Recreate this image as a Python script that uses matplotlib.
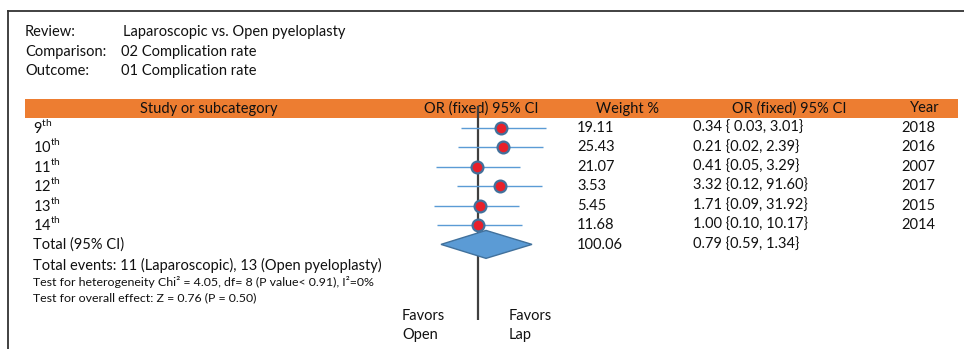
"""Forest plot: laparoscopic vs. open pyeloplasty, complication rate."""

import matplotlib.pyplot as plt

plt.rcParams['font.family'] = ['Lato', 'DejaVu Sans']
plt.rcParams['mathtext.fontset'] = 'custom'
plt.rcParams['mathtext.rm'] = 'Lato'

# --- data -------------------------------------------------------------------
studies = ['9', '10', '11', '12', '13', '14']
weights = ['19.11', '25.43', '21.07', '3.53', '5.45', '11.68']
or_ci = ['0.34 { 0.03, 3.01}', '0.21 {0.02, 2.39}', '0.41 {0.05, 3.29}',
         '3.32 {0.12, 91.60}', '1.71 {0.09, 31.92}', '1.00 {0.10, 10.17}']
years = ['2018', '2016', '2007', '2017', '2015', '2014']
total_weight = '100.06'
total_or_ci = '0.79 {0.59, 1.34}'

# positions of the drawn marks on the forest scale (0 = line of no effect),
# read off the original figure
point_pos = [23, 25, -1, 22, 2, 0]
ci_low_pos = [-17, -20, -42, -21, -44, -41]
ci_high_pos = [68, 65, 42, 64, 41, 44]
diamond_pos = [-37, 8, 54]  # left, centre, right

header_info = [('Review:', 'Laparoscopic vs. Open pyeloplasty'),
               ('Comparison:', '02 Complication rate'),
               ('Outcome:', '01 Complication rate')]
col_titles = ['Study or subcategory', 'OR (fixed) 95% CI', 'Weight %',
              'OR (fixed) 95% CI', 'Year']

ORANGE = '#ED7D31'
BLUE = '#5B9BD5'
DARK_BLUE = '#41719C'
TXT = '#111111'
FS = 10.5
FS_SMALL = 8.9

W, H = 964, 349
fig = plt.figure(figsize=(W / 100, H / 100), dpi=100)
ax = fig.add_axes([0, 0, 1, 1])
ax.set_xlim(0, W)
ax.set_ylim(H, 0)
ax.axis('off')

# frame
ax.plot([8, W], [11, 11], color='#333333', lw=1.3)
ax.plot([8, 8], [11, H], color='#333333', lw=1.3)

# review info
for i, (k, v) in enumerate(header_info):
    y = 32 + 19.7 * i
    ax.text(25, y, k, fontsize=FS, va='center', color=TXT)
    ax.text(121 if i else 123, y, v, fontsize=FS, va='center', color=TXT)

# orange header bar
ax.add_patch(plt.Rectangle((25, 99), 933, 19, color=ORANGE, lw=0))
for x, t in zip([209, 481, 627, 789, 925], col_titles):
    ax.text(x, 108.5, t, fontsize=FS, ha='center', va='center', color=TXT)

row_y = [128 + 19.4 * i for i in range(len(studies))]
for y, s, w, o, yr in zip(row_y, studies, weights, or_ci, years):
    ax.text(33, y + 5, s + r'$^{\mathrm{th}}$', fontsize=FS, va='baseline', color=TXT)
    ax.text(577, y, w, fontsize=FS, va='center', color=TXT)
    ax.text(693, y, o, fontsize=FS, va='center', color=TXT)
    ax.text(901, y, yr, fontsize=FS, va='center', color=TXT)

ax.text(33, 245, 'Total (95% CI)', fontsize=FS, va='center', color=TXT)
ax.text(577, 245, total_weight, fontsize=FS, va='center', color=TXT)
ax.text(693, 245, total_or_ci, fontsize=FS, va='center', color=TXT)
ax.text(33, 265, 'Total events: 11 (Laparoscopic), 13 (Open pyeloplasty)',
        fontsize=FS, va='center', color=TXT)
ax.text(33, 282, 'Test for heterogeneity Chi² = 4.05, df= 8 (P value< 0.91), I²=0%',
        fontsize=FS_SMALL, va='center', color=TXT)
ax.text(33, 298, 'Test for overall effect: Z = 0.76 (P = 0.50)',
        fontsize=FS_SMALL, va='center', color=TXT)

ax.text(402, 316, 'Favors', fontsize=FS, va='center', color=TXT)
ax.text(402, 335, 'Open', fontsize=FS, va='center', color=TXT)
ax.text(509, 316, 'Favors', fontsize=FS, va='center', color=TXT)
ax.text(509, 335, 'Lap', fontsize=FS, va='center', color=TXT)

# forest axes: x in drawn units (0 = no effect), y in row index
fx = fig.add_axes([418 / W, 1 - 320 / H, 140 / W, 221 / H])
fx.set_xlim(-60, 80)
fx.set_ylim((320 - 128) / 19.4, (99 - 128) / 19.4)
fx.axis('off')
fx.plot([0, 0], [-1.1, 9.85], color='#404040', lw=1.6, zorder=1)
rows = list(range(len(studies)))
fx.hlines(rows, ci_low_pos, ci_high_pos, color=BLUE, lw=1.0, zorder=2)
fx.plot(point_pos, rows, 'o', ms=8.5, mfc='#E8202A', mec=DARK_BLUE, mew=1.6,
        zorder=3)
d_row = 6
l, c, r = diamond_pos
fx.fill([l, c, r, c], [d_row, d_row - 0.72, d_row, d_row + 0.72],
        facecolor=BLUE, edgecolor=DARK_BLUE, lw=1.0, zorder=2)

fig.savefig('out.png', dpi=100)
